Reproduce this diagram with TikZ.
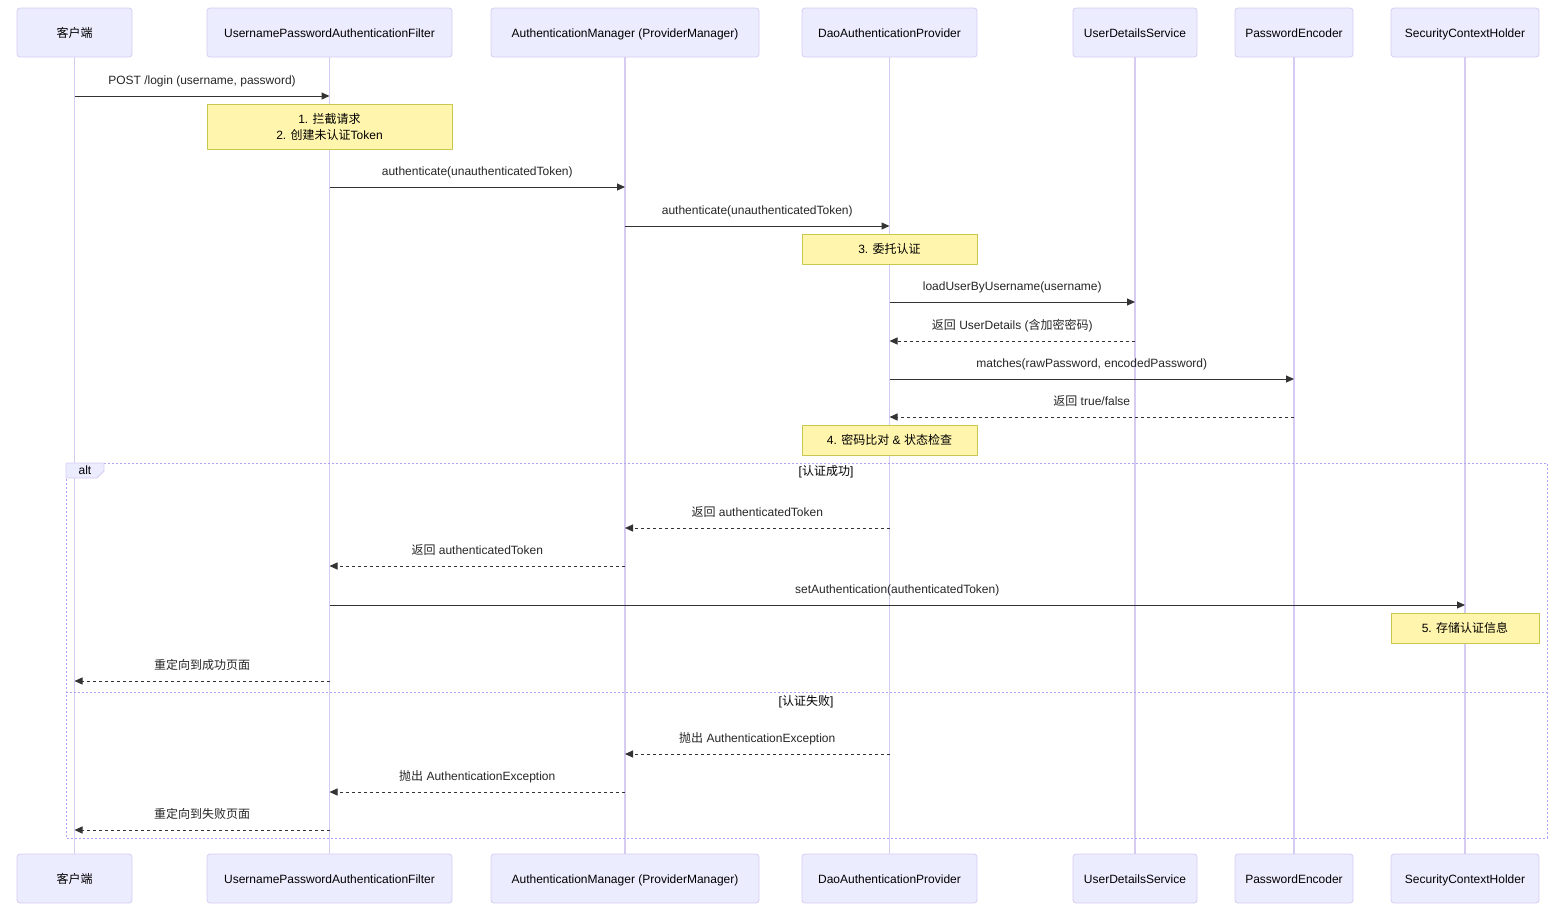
\documentclass[tikz,border=0pt]{standalone}
\usepackage{fontspec}
\setmainfont{Liberation Sans}
\newfontfamily\cjk{Noto Sans CJK SC}
\newcommand\zh[1]{{\cjk #1}}
\usepackage{xcolor}
\usetikzlibrary{positioning,arrows.meta}

\definecolor{actfill}{HTML}{ECECFF}
\definecolor{actline}{HTML}{D6CCF2}
\definecolor{notefill}{HTML}{FFF5AD}
\definecolor{noteline}{HTML}{C8C850}
\definecolor{msgline}{HTML}{333333}

\begin{document}
\begin{tikzpicture}[x=1pt,y=-1pt, font=\fontsize{12}{16}\selectfont, line join=round]
	\useasboundingbox (0,0) rectangle (1561,906);
	
	% ===== style =====
	\tikzset{
		actor/.style={draw=actline, fill=actfill, rounded corners=3pt, line width=0.8pt, minimum height=49pt, inner sep=0pt, text height=13pt, text depth=3pt},
		life/.style={draw=actline, line width=1.4pt},
		note/.style={draw=noteline, fill=notefill, line width=0.9pt, minimum height=30pt, align=center, inner sep=0pt},
		msg/.style={draw=msgline, line width=1pt, -{Triangle[length=8pt,width=7pt]}},
		reply/.style={msg, dash pattern=on 3pt off 3pt},
		lbl/.style={text=black!85, text height=9pt, text depth=3pt, inner sep=0pt, yshift=14.5pt},
		frame/.style={draw=actline!80!blue, line width=1pt, dash pattern=on 2pt off 2pt}
	}
	
	% ===== actors (top + bottom) and lifelines =====
	\foreach \n/\x/\w/\t in {cli/74.5/115/{\zh{客户端}},
		upaf/329.5/245/UsernamePasswordAuthenticationFilter,
		mgr/625/268/AuthenticationManager (ProviderManager),
		dao/889.5/175/DaoAuthenticationProvider,
		uds/1135/124/UserDetailsService,
		enc/1294/118/PasswordEncoder,
		sch/1465/148/SecurityContextHolder}{
		\node[actor, minimum width=\w pt] (\n-top) at (\x,32.5) {\t};
		\node[actor, minimum width=\w pt] (\n-bot) at (\x,878.5) {\t};
		\draw[life] (\n-top.south) -- (\n-bot.north);
	}
	
	% ===== alt frame =====
	\draw[frame] (66,463) rectangle (1547,838);
	\draw[frame] (66,692) -- (1547,692);
	\draw[draw=actline, fill=actfill, line width=0.8pt] (66,463) -- (104,463) -- (104,471) -- (97,478) -- (66,478) -- cycle;
	\node[inner sep=0pt, text height=9pt, text depth=3pt] (alt) at (85,471) {alt};
	\node[inner sep=0pt, text height=9pt, text depth=3pt] (ok) at (826,472) {[\zh{认证成功}]};
	\node[inner sep=0pt, text height=9pt, text depth=3pt] (fail) at (806,702) {[\zh{认证失败}]};
	
	% ===== notes =====
	\node[note, minimum width=245pt, minimum height=45pt] (n1) at (329.5,126.5) {1. \zh{拦截请求}\\2. \zh{创建未认证}Token};
	\node[note, minimum width=175pt] (n3) at (889.5,249) {3. \zh{委托认证}};
	\node[note, minimum width=175pt] (n4) at (889.5,440) {4. \zh{密码比对} \& \zh{状态检查}};
	\node[note, minimum width=148pt] (n5) at (1465,628) {5. \zh{存储认证信息}};
	
	% ===== messages =====
	\draw[msg] (cli-top |- 0,96) -- node[lbl] {POST /login (username, password)} (upaf-top |- 0,96);
	\draw[msg] (upaf-top |- 0,187) -- node[lbl] {authenticate(unauthenticatedToken)} (mgr-top |- 0,187);
	\draw[msg] (mgr-top |- 0,226) -- node[lbl] {authenticate(unauthenticatedToken)} (dao-top |- 0,226);
	\draw[msg] (dao-top |- 0,302) -- node[lbl] {loadUserByUsername(username)} (uds-top |- 0,302);
	\draw[reply] (uds-top |- 0,341) -- node[lbl] {\zh{返回} UserDetails (\zh{含加密密码})} (dao-top |- 0,341);
	\draw[msg] (dao-top |- 0,379) -- node[lbl] {matches(rawPassword, encodedPassword)} (enc-top |- 0,379);
	\draw[reply] (enc-top |- 0,417) -- node[lbl] {\zh{返回} true/false} (dao-top |- 0,417);
	
	\draw[reply] (dao-top |- 0,528) -- node[lbl] {\zh{返回} authenticatedToken} (mgr-top |- 0,528);
	\draw[reply] (mgr-top |- 0,566) -- node[lbl] {\zh{返回} authenticatedToken} (upaf-top |- 0,566);
	\draw[msg] (upaf-top |- 0,605) -- node[lbl] {setAuthentication(authenticatedToken)} (sch-top |- 0,605);
	\draw[reply] (upaf-top |- 0,681) -- node[lbl] {\zh{重定向到成功页面}} (cli-top |- 0,681);
	
	\draw[reply] (dao-top |- 0,754) -- node[lbl] {\zh{抛出} AuthenticationException} (mgr-top |- 0,754);
	\draw[reply] (mgr-top |- 0,792) -- node[lbl] {\zh{抛出} AuthenticationException} (upaf-top |- 0,792);
	\draw[reply] (upaf-top |- 0,830) -- node[lbl] {\zh{重定向到失败页面}} (cli-top |- 0,830);
\end{tikzpicture}
\end{document}
